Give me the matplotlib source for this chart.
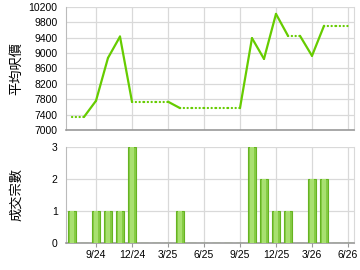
import matplotlib.pyplot as plt

plt.rcParams['font.family'] = ['Liberation Sans', 'Noto Sans CJK TC', 'DejaVu Sans']

# Monthly data, 7/24 .. 6/26
months = ['7/24', '8/24', '9/24', '10/24', '11/24', '12/24', '1/25', '2/25', '3/25',
          '4/25', '5/25', '6/25', '7/25', '8/25', '9/25', '10/25', '11/25', '12/25',
          '1/26', '2/26', '3/26', '4/26', '5/26', '6/26']
avg_price = [7340, None, 7760, 8875, 9430, 7737, None, None, None,
             7570, None, None, None, None, None, 9390, 8850, 10020,
             9450, None, 8930, 9710, None, None]
deals = [1, 0, 1, 1, 1, 3, 0, 0, 0, 1, 0, 0, 0, 0, 0, 3, 2, 1, 1, 0, 2, 2, 0, 0]
tick_labels = ['9/24', '12/24', '3/25', '6/25', '9/25', '12/25', '3/26', '6/26']

x = list(range(len(months)))
tick_pos = [months.index(t) for t in tick_labels]

# carry forward last known price
filled = []
last = None
for v in avg_price:
    if v is not None:
        last = v
    filled.append(last)

green = '#66cc00'
grid_c = '#d9d9d9'
spine_c = '#999999'

fig = plt.figure(figsize=(3.6, 2.7), dpi=100)
ax1 = fig.add_axes([0.1833, 0.5185, 0.8, 0.4556])
ax2 = fig.add_axes([0.1833, 0.1, 0.8, 0.3556])

# price line: solid into months with data, dotted when carried
for i in range(1, len(x)):
    if avg_price[i] is not None:
        ax1.plot([x[i - 1], x[i]], [filled[i - 1], filled[i]], color=green, lw=1.6,
                 solid_capstyle='round', zorder=3)
    else:
        ax1.plot([x[i - 1], x[i]], [filled[i - 1], filled[i]], color=green, lw=1.6,
                 linestyle=(0, (0.1, 1.6)), dash_capstyle='round', zorder=3)

ax1.set_xlim(-0.5, len(x) - 0.5)
ax1.set_ylim(7000, 10200)
ax1.set_yticks(range(7000, 10201, 400))
ax1.set_xticks(tick_pos)
ax1.set_xticklabels([])
ax1.tick_params(axis='x', length=0)
ax1.set_ylabel('平均呎價', fontsize=9.5, family=['Noto Sans CJK TC'])

# deal count bars
ax2.bar(x, deals, width=0.72, color='#86cc44', edgecolor='#66b322', lw=0.8, zorder=3)
ax2.bar(x, deals, width=0.3, color='#a8e070', lw=0, zorder=4)
ax2.set_xlim(-0.5, len(x) - 0.5)
ax2.set_ylim(0, 3)
ax2.set_yticks([0, 1, 2, 3])
ax2.set_xticks(tick_pos)
ax2.set_xticklabels(tick_labels)
ax2.tick_params(axis='x', length=3, color=spine_c)
ax2.set_ylabel('成交宗數', fontsize=9.5, family=['Noto Sans CJK TC'])

for ax in (ax1, ax2):
    ax.grid(True, color=grid_c, lw=0.9, zorder=0)
    ax.tick_params(axis='y', length=0, labelsize=7.5, pad=6)
    ax.tick_params(axis='x', labelsize=7.5, pad=2)
    ax.spines['top'].set_visible(False)
    ax.spines['right'].set_color(grid_c)
    ax.spines['left'].set_color('#bbbbbb')
    ax.spines['bottom'].set_color(spine_c)
    ax.spines['bottom'].set_linewidth(1.2)
    ax.set_axisbelow(True)
    ax.yaxis.set_label_coords(-0.15, 0.5)

fig.savefig('out.png', dpi=100)
